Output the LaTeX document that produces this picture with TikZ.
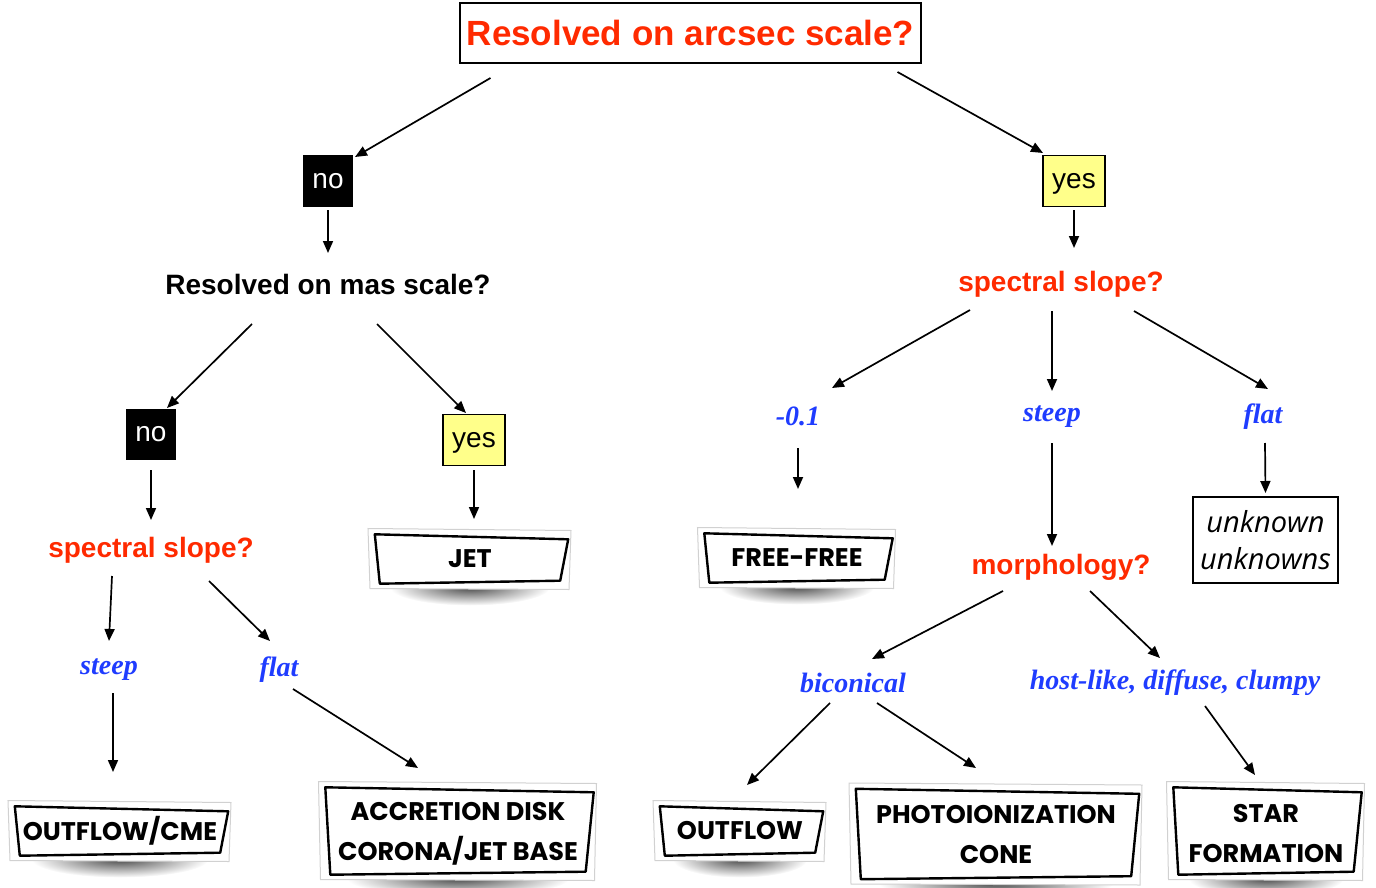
\documentclass[tikz,border=0pt]{standalone}
\usepackage{fontspec}
\setmainfont{Liberation Serif}
\setsansfont{Liberation Sans}
\newfontfamily\boxfont{Poppins}
\newfontfamily\unkfont{Open Sans}
\usetikzlibrary{arrows.meta,calc}
\definecolor{redc}{HTML}{FF2A00}
\definecolor{bluec}{HTML}{1F3CFF}
\definecolor{yellowc}{HTML}{FFFF8A}
\newcommand\paperbox[7]{%
  \shade[inner color=black!70, outer color=white] (#2,#3+#5/2+6) ellipse [x radius=#4*0.42, y radius=18];
  \draw[black!18, fill=white, line width=1pt] (#2-#4/2-7,#3-#5/2-6) -- (#2+#4/2+6,#3-#5/2-4) -- (#2+#4/2+4,#3+#5/2+8) -- (#2-#4/2-5,#3+#5/2+7) -- cycle;
  \node[minimum width=#4pt, minimum height=#5pt, inner sep=0pt] (#1) at (#2,#3) {};
  \node[papertext] (#1t) at ([yshift=-#7pt]#1.center) {#6};
  \draw[line width=2.4pt, line join=round] (#1.north west) -- ([shift={(3,5)}]#1.north east) -- ([shift={(-5,-1)}]#1.south east) -- ([shift={(5,2)}]#1.south west) -- cycle;
}
\begin{document}
\begin{tikzpicture}[x=1pt,y=-1pt,
  arr/.style={line width=1.7pt, -{Triangle[length=12pt,width=10pt]}},
  titlebox/.style={draw, line width=2pt, minimum width=461pt, minimum height=60pt, inner sep=0pt,
    font=\sffamily\bfseries\fontsize{35}{40}\selectfont, text=redc},
  nobox/.style={fill=black, text=white, minimum width=50pt, minimum height=51pt, inner sep=0pt,
    text height=16pt, text depth=2pt, font=\sffamily\fontsize{28}{30}\selectfont},
  yesbox/.style={fill=yellowc, draw, line width=1.5pt, minimum width=62pt, minimum height=51pt, inner sep=0pt,
    text height=16pt, text depth=2pt, font=\sffamily\fontsize{28}{30}\selectfont},
  question/.style={inner sep=0pt, font=\sffamily\bfseries\fontsize{28}{32}\selectfont},
  answer/.style={inner sep=0pt, text=bluec, font=\bfseries\itshape\fontsize{28}{32}\selectfont},
  papertext/.style={inner sep=0pt, align=center, font=\boxfont\bfseries\fontsize{25.5}{40}\selectfont},
  unkbox/.style={draw, line width=2pt, minimum width=145pt, minimum height=86pt, inner sep=0pt, align=center,
    font=\unkfont\itshape\fontsize{29}{37}\selectfont}]
\useasboundingbox (0,0) rectangle (1376,888);

\node[titlebox] (t) at (690.5,33) {Resolved on arcsec scale?};
\node[nobox] (no1) at (328,181) {no};
\node[yesbox] (yes1) at (1074,181) {yes};
\node[question] (mas) at (328,284) {Resolved on mas scale?};
\node[question, text=redc] (ss1) at (1061,284) {spectral slope?};
\node[nobox] (no2) at (151,434) {no};
\node[yesbox] (yes2) at (474,440) {yes};
\node[question, text=redc] (ss2) at (151,550) {spectral slope?};
\node[answer] (st2) at (109,670) {steep};
\node[answer] (fl2) at (279,670) {flat};
\node[answer] (m01) at (798,416) {-0.1};
\node[answer] (st1) at (1052,417) {steep};
\node[answer] (fl1) at (1263,417) {flat};
\node[question, text=redc] (morph) at (1061,567) {morphology?};
\node[unkbox] (unk) at (1265.5,540) {unknown\\unknowns};
\node[answer] (bic) at (853,683) {biconical};
\node[answer] (host) at (1175,683) {host-like, diffuse, clumpy};

\paperbox{jet}{470}{558}{190}{47}{JET}{1}
\paperbox{ff}{797}{557}{185}{47}{FREE-FREE}{1}
\paperbox{ocme}{120}{830}{210}{47}{OUTFLOW/CME}{1}
\paperbox{acc}{458}{830}{265}{85}{ACCRETION DISK\\CORONA/JET BASE}{4}
\paperbox{out}{740}{830}{160}{47}{OUTFLOW}{1}
\paperbox{photo}{996}{833}{280}{88}{PHOTOIONIZATION\\CONE}{2}
\paperbox{star}{1266}{830}{185}{85}{STAR\\FORMATION}{4}

\draw[arr] ([shift={(-200,45)}]t.center) -- ([shift={(27,-24)}]no1.center);
\draw[arr] ([shift={(207,39)}]t.center) -- ([shift={(-31,-28)}]yes1.center);
\draw[arr] ([shift={(0,29)}]no1.center) -- ([shift={(0,-31)}]mas.center);
\draw[arr] ([shift={(0,29)}]yes1.center) -- ([shift={(13,-36)}]ss1.center);
\draw[arr] ([shift={(-76,40)}]mas.center) -- ([shift={(16,-26)}]no2.center);
\draw[arr] ([shift={(49,40)}]mas.center) -- ([shift={(-8,-27)}]yes2.center);
\draw[arr] ([shift={(0,36)}]no2.center) -- ([shift={(0,-30)}]ss2.center);
\draw[arr] ([shift={(0,30)}]yes2.center) -- ([shift={(4,-39)}]jet.center);
\draw[arr] ([shift={(-39,26)}]ss2.center) -- ([shift={(0,-29)}]st2.center);
\draw[arr] ([shift={(58,31)}]ss2.center) -- ([shift={(-9,-29)}]fl2.center);
\draw[arr] ([shift={(4,23)}]st2.center) -- ([shift={(-7,-58)}]ocme.center);
\draw[arr] ([shift={(14,19)}]fl2.center) -- ([shift={(-40,-62)}]acc.center);
\draw[arr] ([shift={(-91,26)}]ss1.center) -- ([shift={(34,-28)}]m01.center);
\draw[arr] ([shift={(-9,27)}]ss1.center) -- ([shift={(0,-26)}]st1.center);
\draw[arr] ([shift={(73,27)}]ss1.center) -- ([shift={(5,-28)}]fl1.center);
\draw[arr] ([shift={(0,32)}]m01.center) -- ([shift={(1,-68)}]ff.center);
\draw[arr] ([shift={(0,26)}]st1.center) -- ([shift={(-9,-21)}]morph.center);
\draw[arr] ([shift={(2,26)}]fl1.center) -- ([shift={(0,-47)}]unk.center);
\draw[arr] ([shift={(-58,24)}]morph.center) -- ([shift={(19,-24)}]bic.center);
\draw[arr] ([shift={(29,24)}]morph.center) -- ([shift={(-15,-25)}]host.center);
\draw[arr] ([shift={(-23,20)}]bic.center) -- ([shift={(7,-45)}]out.center);
\draw[arr] ([shift={(24,20)}]bic.center) -- ([shift={(-20,-65)}]photo.center);
\draw[arr] ([shift={(30,23)}]host.center) -- ([shift={(-11,-55)}]star.center);
\end{tikzpicture}
\end{document}
